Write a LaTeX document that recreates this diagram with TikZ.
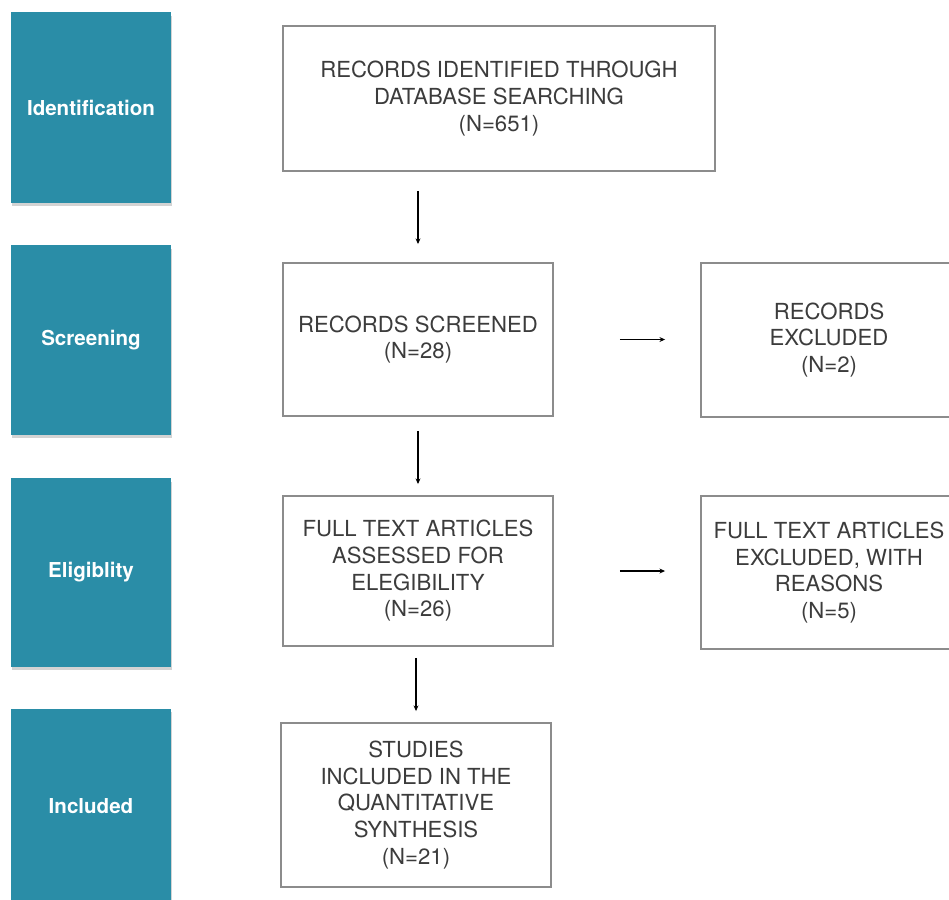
\documentclass[tikz,border=0pt]{standalone}
\usepackage{fontspec}
\setmainfont{TeX Gyre Heros}
\usetikzlibrary{arrows.meta,shadows}
\definecolor{stageteal}{RGB}{42,141,167}
\definecolor{boxgray}{RGB}{140,140,140}
\definecolor{txtgray}{RGB}{60,60,60}

\begin{document}
\begin{tikzpicture}[x=0.02cm,y=-0.02cm,
  stage/.style={fill=stageteal, minimum width=3.2cm, inner sep=0pt, text=white,
    font=\fontsize{11.7}{14}\selectfont\bfseries,
    drop shadow={opacity=0.35, shadow xshift=0.02cm, shadow yshift=-0.07cm}},
  rec/.style={draw=boxgray, line width=1.1pt, fill=white, align=center, inner sep=0pt,
    text=txtgray, font=\fontsize{12.6}{15.2}\selectfont},
  flow/.style={-{Stealth[length=3.2pt,width=2.8pt]}, line width=0.6pt}]
\useasboundingbox (0,0) rectangle (949,899);
% stage labels
\node [stage, minimum height=3.82cm] (ident) at (91,107.5) {Identification};
\node [stage, minimum height=3.8cm] (screen) at (91,340) {Screening};
\node [stage, minimum height=3.78cm] (elig) at (91,572.5) {Eligiblity};
\node [stage, minimum height=3.9cm] (incl) at (91,806) {Included};
% records boxes
\node [rec, minimum width=8.64cm, minimum height=2.9cm] (db) at (499,98.5) {RECORDS IDENTIFIED THROUGH\\DATABASE SEARCHING\\(N=651)};
\node [rec, minimum width=5.4cm, minimum height=3.06cm] (screened) at (418,339.5) {RECORDS SCREENED\\(N=28)};
\node [rec, minimum width=5.12cm, minimum height=3.08cm] (recexcl) at (829,340) {RECORDS\\EXCLUDED\\(N=2)};
\node [rec, minimum width=5.4cm, minimum height=3.0cm] (fulltext) at (418,571) {FULL TEXT ARTICLES\\ASSESSED FOR\\ELEGIBILITY\\(N=26)};
\node [rec, minimum width=5.12cm, minimum height=3.06cm] (ftexcl) at (829,572.5) {FULL TEXT ARTICLES\\EXCLUDED, WITH\\REASONS\\(N=5)};
\node [rec, minimum width=5.4cm, minimum height=3.28cm] (studies) at (416,805) {STUDIES\\INCLUDED IN THE\\QUANTITATIVE\\SYNTHESIS\\(N=21)};
% arrows
\draw [flow, shorten <=0.38cm, shorten >=0.36cm] (screened.north |- db.south) -- (screened.north);
\draw [flow, shorten <=0.28cm, shorten >=0.22cm] (screened.south) -- (fulltext.north);
\draw [flow, shorten <=0.22cm, shorten >=0.22cm] (fulltext.south -| studies.north) -- (studies.north);
\draw [flow, shorten <=1.32cm, shorten >=0.7cm] (screened.east) -- (recexcl.west |- screened.east);
\draw [flow, shorten <=1.32cm, shorten >=0.7cm] (fulltext.east) -- (ftexcl.west |- fulltext.east);
\end{tikzpicture}
\end{document}
